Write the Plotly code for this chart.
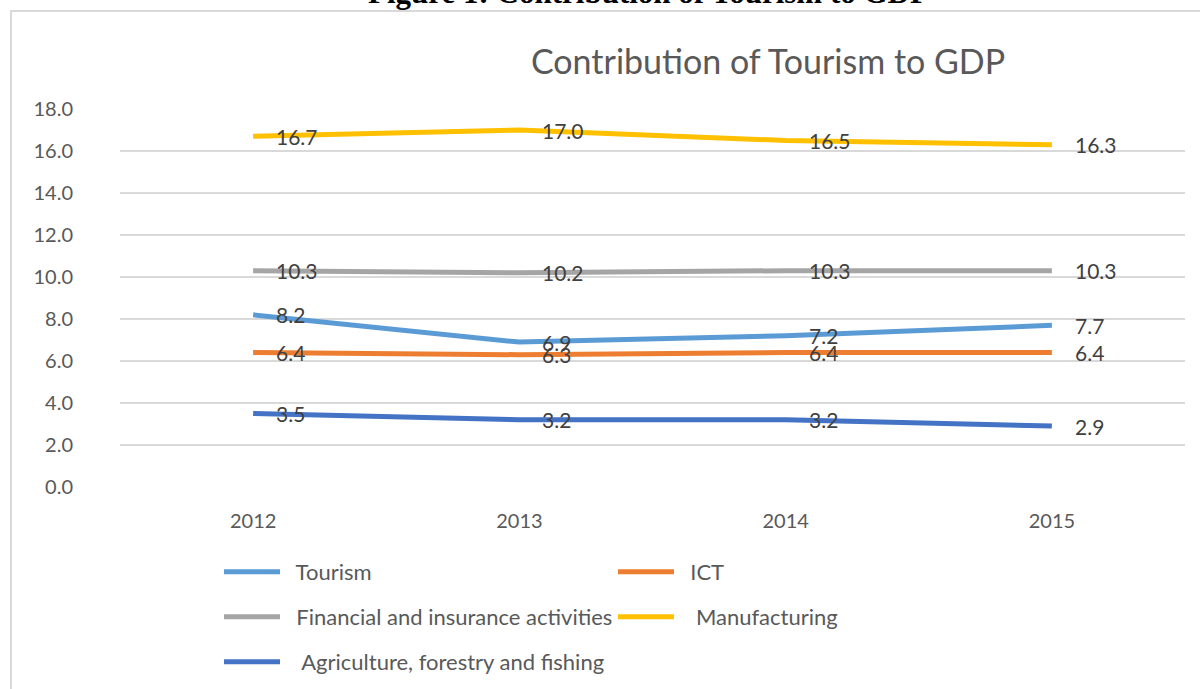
import plotly.graph_objects as go

years = ["2012", "2013", "2014", "2015"]
series_names = ["Tourism", "ICT", "Financial and insurance activities",
                "Manufacturing", "Agriculture, forestry and fishing"]
tourism = [8.2, 6.9, 7.2, 7.7]
ict = [6.4, 6.3, 6.4, 6.4]
financial = [10.3, 10.2, 10.3, 10.3]
manufacturing = [16.7, 17.0, 16.5, 16.3]
agriculture = [3.5, 3.2, 3.2, 2.9]
y_ticks = [0, 2, 4, 6, 8, 10, 12, 14, 16, 18]

series_values = [tourism, ict, financial, manufacturing, agriculture]
colors = ["#5B9BD5", "#ED7D31", "#A5A5A5", "#FFC000", "#4472C4"]
legend_ids = ["legend", "legend", "legend2", "legend2", "legend3"]
name_prefix = ["\u00a0\u00a0", "\u00a0\u00a0", "\u00a0\u00a0", "\u00a0\u00a0\u00a0", "\u00a0\u00a0\u00a0"]

FONT = "Lato"
fig = go.Figure()
for name, vals, col, lg, pre in zip(series_names, series_values, colors, legend_ids, name_prefix):
    fig.add_trace(go.Scatter(
        x=years, y=vals, mode="lines", name=pre + name,
        line=dict(color=col, width=5), legend=lg, hoverinfo="skip"))

annotations = []
for vals in series_values:
    for i, v in enumerate(vals):
        annotations.append(dict(
            x=i, y=v, xref="x", yref="y", text=f"{v:.1f}", showarrow=False,
            xanchor="left", yanchor="middle", xshift=21,
            font=dict(family=FONT, size=21, color="#404040")))

annotations.append(dict(
    x=0.4958, y=1.2566, xref="paper", yref="paper",
    text="<b>Figure 1: Contribution of Tourism to GDP</b>", showarrow=False,
    xanchor="center", yanchor="bottom",
    font=dict(family="Liberation Serif", size=31, color="#000000")))

legend_common = dict(orientation="h", xanchor="left", yanchor="middle",
                     font=dict(family=FONT, size=22, color="#595959"),
                     itemwidth=56, entrywidth=323, entrywidthmode="pixels",
                     bgcolor="rgba(0,0,0,0)", borderwidth=0, itemclick=False)

fig.update_layout(
    width=1200, height=689,
    margin=dict(l=120, r=15, t=109, b=202, autoexpand=False),
    paper_bgcolor="white", plot_bgcolor="white",
    title=dict(text="Contribution of Tourism to GDP", x=0.6085, xref="paper",
               xanchor="center", y=1 - 62 / 689, yref="container", yanchor="middle",
               font=dict(family=FONT, size=34, color="#595959")),
    xaxis=dict(type="category", range=[-0.5, len(years) - 0.5],
               showgrid=False, showline=False, zeroline=False,
               tickfont=dict(family=FONT, size=20, color="#595959"),
               ticks="", ticklabelstandoff=20),
    yaxis=dict(range=[0, 18], tickvals=y_ticks, tickformat=".1f",
               showgrid=True, gridcolor="#D9D9D9", gridwidth=1.5,
               zeroline=False, showline=False, ticks="",
               tickfont=dict(family=FONT, size=20, color="#595959"),
               ticklabelstandoff=46),
    legend=dict(x=(219 - 120) / 1065, y=(487 - 572) / 378, **legend_common),
    legend2=dict(x=(219 - 120) / 1065, y=(487 - 617) / 378, **legend_common),
    legend3=dict(x=(219 - 120) / 1065, y=(487 - 662) / 378, **legend_common),
    annotations=annotations,
    shapes=[dict(type="rect", xref="paper", yref="paper",
                 x0=(11 - 120) / 1065, x1=1.2, y0=-0.7, y1=(487 - 11) / 378,
                 line=dict(color="#D9D9D9", width=2), fillcolor="rgba(0,0,0,0)",
                 layer="below")],
    showlegend=True,
)

fig.write_html("out.html")
